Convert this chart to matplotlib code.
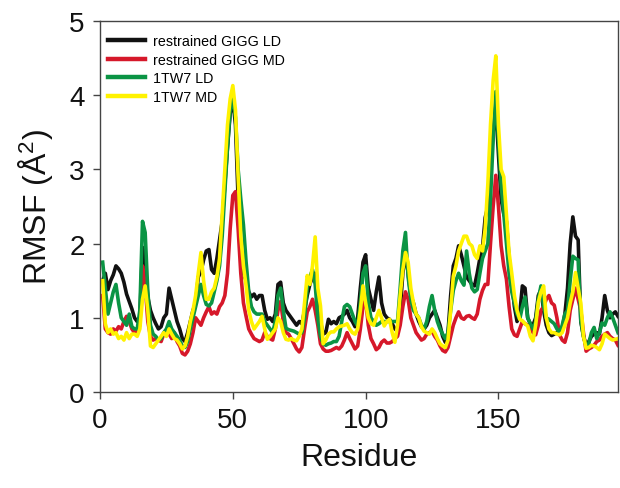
import numpy as np
import matplotlib
matplotlib.use("Agg")
import matplotlib.pyplot as plt

plt.rcParams['font.family'] = ['Liberation Sans', 'DejaVu Sans']
plt.rcParams['mathtext.fontset'] = 'custom'
plt.rcParams['mathtext.rm'] = 'Liberation Sans'
plt.rcParams['mathtext.it'] = 'Liberation Sans'

residues = np.arange(1, 196)

gigg_ld = [
    1.50, 1.60, 1.38, 1.50, 1.58, 1.70, 1.66, 1.60, 1.48, 1.32,
    1.22, 1.12, 1.00, 0.95, 1.00, 1.95, 1.75, 1.28, 1.10, 1.00,
    0.92, 0.85, 0.88, 1.00, 1.05, 1.40, 1.25, 1.10, 0.95, 0.85,
    0.72, 0.68, 0.80, 0.95, 1.10, 1.20, 1.55, 1.62, 1.78, 1.90,
    1.92, 1.65, 1.60, 1.80, 2.05, 2.30, 2.80, 3.30, 3.75, 3.95,
    3.60, 2.60, 1.90, 1.60, 1.50, 1.35, 1.28, 1.32, 1.25, 1.30,
    1.30, 1.10, 0.98, 1.00, 0.95, 1.05, 1.45, 1.48, 1.20, 1.10,
    1.05, 1.00, 0.95, 0.90, 0.95, 0.92, 1.10, 1.30, 1.45, 1.55,
    1.60, 1.25, 0.95, 0.78, 0.80, 0.98, 0.92, 0.95, 0.92, 1.00,
    1.02, 1.05, 1.10, 1.00, 0.95, 0.88, 1.00, 1.40, 1.75, 1.85,
    1.40, 1.25, 1.10, 1.35, 1.55, 1.20, 1.05, 1.00, 0.98, 0.92,
    0.85, 0.82, 1.10, 1.60, 1.88, 1.60, 1.30, 1.20, 1.05, 0.95,
    0.88, 0.85, 0.90, 1.00, 1.05, 1.10, 1.00, 0.90, 0.75, 0.67,
    0.80, 1.30, 1.70, 1.80, 1.97, 1.85, 1.70, 1.55, 1.50, 1.45,
    1.43, 1.60, 1.80, 1.95, 2.35, 2.50, 3.00, 3.50, 3.85, 3.20,
    2.60, 2.40, 2.30, 1.80, 1.50, 1.15, 0.95, 1.05, 1.43, 1.40,
    1.00, 0.92, 0.90, 1.00, 1.30, 1.38, 1.10, 0.90, 0.80, 0.76,
    0.78, 0.80, 0.80, 0.85, 1.05, 1.40, 2.00, 2.36, 2.10, 2.05,
    0.95, 0.75, 0.62, 0.68, 0.75, 0.78, 0.80, 0.78, 1.00, 1.30,
    1.10, 1.00, 1.05, 1.08, 1.02,
]

gigg_md = [
    1.30, 0.85, 0.80, 0.78, 0.85, 0.82, 0.88, 0.85, 0.95, 1.02,
    0.95, 0.85, 0.80, 0.82, 0.90, 1.70, 1.45, 0.95, 0.75, 0.70,
    0.72, 0.70, 0.68, 0.78, 0.82, 0.78, 0.72, 0.80, 0.68, 0.62,
    0.52, 0.50, 0.55, 0.65, 0.80, 1.00, 0.95, 0.90, 1.00, 1.08,
    1.15, 1.05, 1.08, 1.05, 1.15, 1.20, 1.30, 1.60, 2.20, 2.65,
    2.70, 2.20, 1.60, 1.20, 1.02, 0.85, 0.78, 0.72, 0.70, 0.68,
    0.70, 0.80, 0.75, 0.72, 0.70, 0.85, 1.10, 1.22, 0.95, 0.80,
    0.78, 0.72, 0.65, 0.58, 0.54, 0.60, 0.85, 1.08, 1.15, 1.25,
    1.10, 0.90, 0.65, 0.58, 0.55, 0.55, 0.56, 0.58, 0.60, 0.58,
    0.62, 0.70, 0.80, 0.72, 0.65, 0.58, 0.62, 0.85, 1.15, 1.25,
    0.90, 0.72, 0.65, 0.57, 0.60, 0.67, 0.70, 0.66, 0.66, 0.68,
    0.72, 0.75, 0.90, 1.15, 1.35, 1.25, 1.00, 0.90, 0.80, 0.75,
    0.70, 0.72, 0.78, 0.80, 0.82, 0.75, 0.70, 0.62, 0.56, 0.54,
    0.60, 0.75, 0.90, 1.00, 1.08, 1.00, 0.98, 1.02, 1.03, 1.00,
    0.98, 1.05, 1.25, 1.37, 1.45, 1.45, 2.00, 2.50, 2.92, 2.50,
    1.97, 1.70, 1.52, 1.15, 0.85, 0.77, 0.75, 0.85, 0.95, 0.92,
    0.90, 0.88, 0.80, 0.77, 0.90, 1.10, 1.15, 1.25, 1.30, 1.20,
    1.17, 1.00, 0.77, 0.70, 0.67, 0.80, 1.10, 1.25, 1.40, 1.25,
    1.10, 0.80, 0.55, 0.58, 0.60, 0.63, 0.68, 0.70, 0.75, 0.78,
    0.80, 0.75, 0.72, 0.70, 0.63,
]

tw7_ld = [
    1.75, 1.40, 1.05, 1.20, 1.35, 1.45, 1.20, 1.00, 0.95, 0.90,
    1.05, 0.88, 0.85, 0.85, 1.10, 2.30, 2.15, 1.35, 0.90, 0.78,
    0.75, 0.70, 0.72, 0.80, 0.85, 0.95, 0.85, 0.80, 0.75, 0.70,
    0.62, 0.60, 0.68, 0.85, 1.00, 1.15, 1.30, 1.45, 1.30, 1.18,
    1.16, 1.20, 1.35, 1.50, 1.70, 2.10, 2.70, 3.30, 3.80, 3.95,
    3.70, 3.00, 2.60, 2.25, 1.75, 1.35, 1.15, 1.08, 1.05, 1.05,
    1.05, 0.95, 0.90, 0.85, 0.80, 0.95, 1.30, 1.40, 1.10, 0.86,
    0.84, 0.83, 0.82, 0.80, 0.78, 0.80, 1.00, 1.40, 1.55, 1.65,
    1.45, 1.00, 0.75, 0.65, 0.63, 0.65, 0.66, 0.68, 0.68, 0.75,
    0.95, 1.15, 1.18, 1.15, 1.05, 0.95, 0.89, 1.20, 1.60, 1.70,
    1.20, 1.00, 0.95, 0.90, 0.92, 0.95, 0.95, 0.95, 0.95, 0.95,
    0.95, 0.95, 1.40, 1.90, 2.15, 1.55, 1.25, 1.10, 1.05, 1.00,
    0.90, 0.85, 0.95, 1.15, 1.30, 1.10, 0.95, 0.85, 0.78, 0.72,
    0.80, 1.10, 1.37, 1.50, 1.60, 1.50, 1.44, 1.90, 1.60, 1.40,
    1.35, 1.38, 1.60, 1.80, 1.90, 2.00, 2.60, 3.40, 4.05, 3.40,
    2.80, 2.40, 2.00, 1.60, 1.35, 1.20, 1.05, 0.98, 1.15, 1.28,
    1.00, 0.92, 0.85, 0.95, 1.25, 1.43, 1.15, 1.00, 0.98, 0.95,
    0.92, 0.85, 0.80, 0.90, 1.05, 1.10, 1.50, 1.83, 1.80, 1.78,
    0.96, 0.75, 0.62, 0.65, 0.80, 0.87, 0.72, 0.80, 0.93, 0.90,
    1.00, 1.08, 1.00, 0.90, 0.80,
]

tw7_md = [
    1.50, 0.92, 0.80, 0.85, 0.78, 0.80, 0.72, 0.75, 0.70, 0.80,
    0.72, 0.78, 0.78, 0.75, 0.85, 1.25, 1.43, 1.10, 0.62, 0.60,
    0.65, 0.70, 0.75, 0.80, 0.75, 0.85, 0.78, 0.72, 0.70, 0.65,
    0.58, 0.62, 0.75, 0.95, 1.10, 1.30, 1.60, 1.88, 1.50, 1.25,
    1.25, 1.35, 1.40, 1.55, 1.80, 2.40, 3.00, 3.60, 3.95, 4.13,
    3.80, 2.90, 2.10, 1.70, 1.43, 1.10, 0.95, 0.85, 0.90, 0.95,
    1.02, 0.85, 0.71, 0.75, 0.80, 0.85, 1.00, 0.95, 0.80, 0.71,
    0.70, 0.72, 0.70, 0.69, 0.75, 0.85, 1.20, 1.57, 1.45, 1.70,
    2.09, 1.40, 1.16, 0.65, 0.70, 0.78, 0.81, 0.81, 0.85, 0.88,
    0.89, 0.90, 0.92, 0.85, 0.80, 0.78, 0.85, 1.10, 1.43, 1.20,
    1.00, 0.92, 0.90, 1.00, 1.10, 1.00, 0.89, 0.95, 0.98, 0.80,
    0.67, 0.90, 1.30, 1.65, 1.88, 1.75, 1.40, 1.20, 1.05, 1.00,
    0.88, 0.82, 0.80, 0.78, 0.85, 0.80, 0.72, 0.65, 0.62, 0.60,
    0.70, 1.10, 1.56, 1.70, 1.90, 2.00, 2.10, 2.10, 2.00, 1.97,
    1.85, 1.80, 1.97, 1.90, 2.20, 2.80, 3.60, 4.20, 4.53, 3.60,
    3.00, 2.90, 2.40, 1.88, 1.60, 1.30, 1.10, 0.98, 0.96, 0.92,
    0.89, 0.75, 0.69, 0.90, 1.21, 1.35, 1.43, 1.00, 0.85, 0.80,
    0.80, 0.78, 0.77, 0.80, 0.90, 1.00, 1.20, 1.35, 1.61, 1.40,
    1.20, 0.75, 0.59, 0.60, 0.63, 0.62, 0.60, 0.57, 0.65, 0.78,
    0.75, 0.72, 0.70, 0.71, 0.72,
]

labels = ["restrained GIGG LD", "restrained GIGG MD", "1TW7 LD", "1TW7 MD"]
series = [gigg_ld, gigg_md, tw7_ld, tw7_md]
colors = ["#111111", "#d6182a", "#0b9444", "#fff200"]

x_ticks = [0, 50, 100, 150]
y_ticks = [0, 1, 2, 3, 4, 5]

fig = plt.figure(figsize=(6.2, 4.89), dpi=100)
ax = fig.add_axes([100/620, 1 - 393/489, 518/620, 371/489])

for ys, lab, c in zip(series, labels, colors):
    ax.plot(residues, ys, color=c, lw=2.6, label=lab, solid_joinstyle='round')

ax.set_xlim(0, 195)
ax.set_ylim(0, 5)
ax.set_xticks(x_ticks)
ax.set_yticks(y_ticks)
ax.tick_params(direction='out', length=5, width=1, labelsize=20, colors='#444444',
               labelcolor='#111111', pad=6)
for s in ax.spines.values():
    s.set_color('#444444')
    s.set_linewidth(1.0)

ax.set_xlabel("Residue", fontsize=23, labelpad=6, color='#111111')
ax.set_ylabel("RMSF (Å$^2$)", fontsize=23, labelpad=10, color='#111111')

leg = ax.legend(loc='upper left', bbox_to_anchor=(0.016, 0.965), frameon=False,
                fontsize=10.3, handlelength=2.6, handletextpad=0.5,
                labelspacing=0.33, borderaxespad=0, borderpad=0)
for line in leg.get_lines():
    line.set_linewidth(3.2)

fig.savefig("out.png", dpi=100)
